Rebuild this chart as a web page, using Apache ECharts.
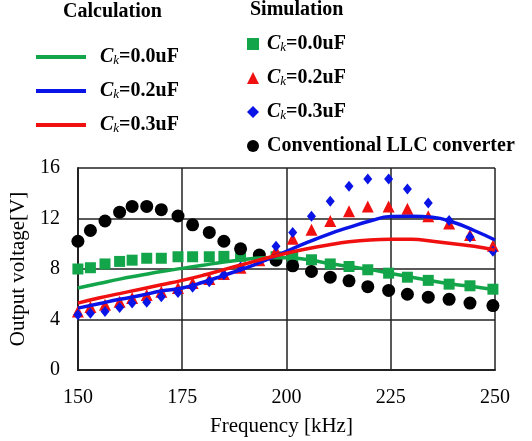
<!DOCTYPE html>
<html>
<head>
<meta charset="utf-8">
<script src="https://cdn.jsdelivr.net/npm/echarts@6/dist/echarts.min.js"></script>
<style>
  html, body { margin: 0; padding: 0; background: #fff; }
  #chart { width: 532px; height: 441px; }
</style>
</head>
<body>
<div id="chart"></div>
<script>
// simulation frequencies [kHz]
const simFreq = [150, 153, 156.5, 160, 163, 166.5, 170, 174, 177.5, 181.5, 185, 189, 193.5,
  197.5, 201.5, 206, 210.5, 215, 219.5, 224.5, 229, 234, 239, 244, 249.5];
const simCk00 = [8.0, 8.1, 8.4, 8.6, 8.7, 8.85, 8.85, 8.97, 8.97, 8.97, 9.0, 9.0, 9.0,
  8.97, 8.94, 8.73, 8.4, 8.2, 7.94, 7.67, 7.35, 7.1, 6.8, 6.67, 6.4];
const simCk02 = [4.63, 5.0, 5.16, 5.4, 5.7, 5.95, 6.2, 6.5, 6.9, 7.2, 7.6, 8.1, 8.7,
  9.44, 10.4, 11.1, 11.8, 12.57, 12.96, 12.96, 12.78, 12.17, 11.6, 10.7, 9.84];
const simCk03 = [4.37, 4.5, 4.63, 4.95, 5.3, 5.37, 5.8, 6.13, 6.56, 7.0, 7.54, 8.15, 8.9,
  9.8, 10.9, 12.17, 13.36, 14.55, 15.13, 15.13, 14.34, 13.23, 11.85, 10.53, 9.4];
const simConv = [10.2, 11.05, 11.8, 12.5, 12.96, 12.96, 12.7, 12.2, 11.5, 10.9, 10.2, 9.6, 9.1,
  8.7, 8.25, 7.8, 7.35, 7.06, 6.6, 6.3, 6.0, 5.77, 5.6, 5.3, 5.1];

// calculation frequencies [kHz]
const calcFreq = [150, 155, 160, 165, 170, 175, 180, 185, 190, 195, 200,
  205, 210, 215, 220, 225, 230, 235, 240, 245, 250];
const calcCk00 = [6.5, 6.85, 7.2, 7.5, 7.8, 8.05, 8.3, 8.55, 8.75, 8.9, 8.9,
  8.75, 8.45, 8.2, 7.95, 7.65, 7.35, 7.05, 6.8, 6.6, 6.35];
const calcCk02 = [4.9, 5.25, 5.6, 5.9, 6.25, 6.5, 6.95, 7.5, 8.05, 8.7, 9.4,
  10.1, 10.75, 11.3, 11.8, 12.15, 12.17, 12.1, 11.7, 11.05, 10.3];
const calcCk03 = [5.3, 5.7, 6.05, 6.4, 6.75, 7.1, 7.5, 7.95, 8.4, 8.85, 9.25,
  9.6, 9.9, 10.15, 10.3, 10.35, 10.35, 10.2, 10.0, 9.8, 9.5];

const xTicks = [150, 175, 200, 225, 250];
const yTicks = [0, 4, 8, 12, 16];

const GREEN = '#13a54a', BLUE = '#0a14e6', RED = '#f01010', BLACK = '#000';
const serif = '"Liberation Serif", "Times New Roman", serif';

const pair = (xs, ys) => xs.map((x, i) => [x, ys[i]]);

const legendLabels = {
  c00: '0.0uF', c02: '0.2uF', c03: '0.3uF',
  s00: '0.0uF', s02: '0.2uF', s03: '0.3uF'
};
const makeRich = (gap) => ({
  c: { fontFamily: serif, fontStyle: 'italic', fontWeight: 'bold', fontSize: 20, color: '#000', padding: [0, 0, 0, gap] },
  k: { fontFamily: serif, fontStyle: 'italic', fontSize: 13, color: '#000', padding: [7, 0, 0, 0] },
  v: { fontFamily: serif, fontWeight: 'bold', fontSize: 20, color: '#000' },
  w: { fontFamily: serif, fontWeight: 'bold', fontSize: 20, color: '#000', padding: [0, 0, 0, gap] }
});
const legendFmt = (name) => {
  if (name === 'conv') return '{w|Conventional LLC converter}';
  return '{c|C}{k|k}{v|=' + legendLabels[name] + '}';
};

const chart = echarts.init(document.getElementById('chart'));
chart.setOption({
  animation: false,
  grid: { left: 74, right: 37, top: 168, bottom: 71 },
  graphic: [
    { type: 'text', left: 63, top: 2, style: { text: 'Calculation', font: 'bold 20px ' + serif, fill: '#000' } },
    { type: 'text', left: 250, top: 0, style: { text: 'Simulation', font: 'bold 20px ' + serif, fill: '#000' } }
  ],
  legend: [
    {
      data: ['c00', 'c02', 'c03'],
      orient: 'vertical', left: 31, top: 42,
      icon: 'rect', itemWidth: 50, itemHeight: 4, itemGap: 14,
      formatter: legendFmt,
      textStyle: { rich: makeRich(9) }
    },
    {
      data: ['s00', 's02', 's03', 'conv'],
      orient: 'vertical', left: 242, top: 29,
      itemWidth: 12, itemHeight: 12, itemGap: 14,
      formatter: legendFmt,
      textStyle: { rich: makeRich(3) }
    }
  ],
  xAxis: {
    type: 'value', min: 150, max: 250, interval: 25,
    name: 'Frequency [kHz]', nameLocation: 'middle', nameGap: 46,
    nameTextStyle: { fontFamily: serif, fontSize: 21, color: '#000', padding: [0, 10, 0, 0] },
    axisLine: { lineStyle: { color: '#222', width: 2 } },
    axisTick: { show: false },
    axisLabel: { fontFamily: serif, fontSize: 20, color: '#000', margin: 18 },
    splitLine: { lineStyle: { color: '#222', width: 1.5 } }
  },
  yAxis: {
    type: 'value', min: 0, max: 16, interval: 4,
    name: 'Output voltage[V]', nameLocation: 'middle', nameGap: 44,
    nameTextStyle: { fontFamily: serif, fontSize: 21, color: '#000' },
    axisLine: { show: true, lineStyle: { color: '#222', width: 2 } },
    axisTick: { show: false },
    axisLabel: { fontFamily: serif, fontSize: 20, color: '#000', margin: 18 },
    splitLine: { lineStyle: { color: '#222', width: 1.5 } }
  },
  series: [
    { name: 'c00', type: 'line', data: pair(calcFreq, calcCk00), smooth: true, symbol: 'none',
      lineStyle: { color: GREEN, width: 3.5 }, itemStyle: { color: GREEN } },
    { name: 'c02', type: 'line', data: pair(calcFreq, calcCk02), smooth: true, symbol: 'none',
      lineStyle: { color: BLUE, width: 3.5 }, itemStyle: { color: BLUE } },
    { name: 'c03', type: 'line', data: pair(calcFreq, calcCk03), smooth: true, symbol: 'none',
      lineStyle: { color: RED, width: 3.5 }, itemStyle: { color: RED } },
    { name: 's00', type: 'scatter', data: pair(simFreq, simCk00), symbol: 'rect', symbolSize: 11,
      itemStyle: { color: GREEN, opacity: 1 } },
    { name: 's02', type: 'scatter', data: pair(simFreq, simCk02), symbol: 'triangle', symbolSize: 12,
      itemStyle: { color: RED, opacity: 1 } },
    { name: 's03', type: 'scatter', data: pair(simFreq, simCk03), symbol: 'diamond', symbolSize: [9, 11],
      itemStyle: { color: BLUE, opacity: 1 } },
    { name: 'conv', type: 'scatter', data: pair(simFreq, simConv), symbol: 'circle', symbolSize: 13,
      itemStyle: { color: BLACK, opacity: 1 } }
  ]
});
</script>
</body>
</html>
